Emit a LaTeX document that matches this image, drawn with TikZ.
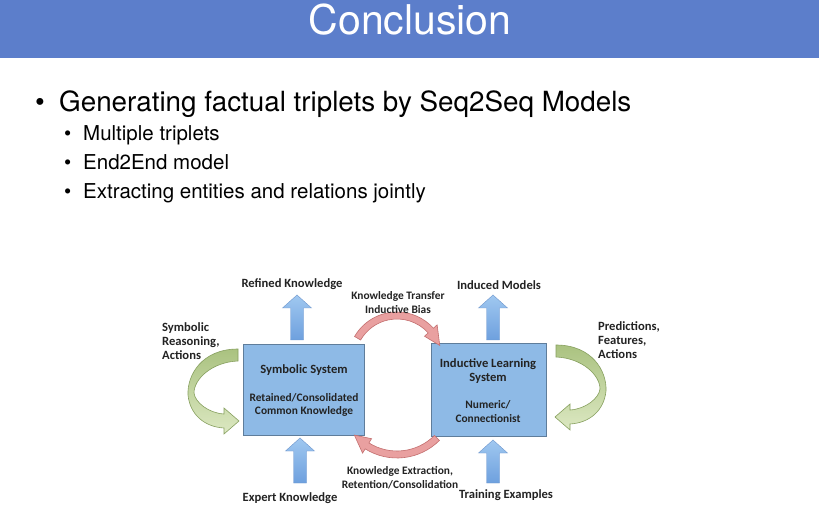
\documentclass[tikz,border=0pt]{standalone}
\usepackage{fontspec}
\setmainfont{TeX Gyre Heros}
\newfontfamily\diagfont{Carlito}
\usetikzlibrary{calc}
\definecolor{hdr}{RGB}{92,126,203}
\definecolor{boxfill}{RGB}{142,186,230}
\definecolor{boxline}{RGB}{95,125,155}
\definecolor{bluetop}{RGB}{160,200,240}
\definecolor{bluebot}{RGB}{110,160,222}
\definecolor{blueline}{RGB}{110,150,205}
\definecolor{redfill}{RGB}{233,160,160}
\definecolor{redline}{RGB}{195,110,110}
\definecolor{grntop}{RGB}{170,194,128}
\definecolor{grnbot}{RGB}{220,232,194}
\definecolor{grnline}{RGB}{135,160,95}
\definecolor{dtext}{RGB}{35,35,35}
\newcommand\GreenShape{(238,176) .. controls (202,176) and (187,150) .. (188,130) .. controls (190,110) and (205,98) .. (224,97) -- (224,91) -- (239,104) -- (224,117) -- (224,111) .. controls (208,112) and (195,123) .. (194,132) .. controls (194,146) and (212,163) .. (238,164) -- cycle}
\begin{document}
\begin{tikzpicture}[x=1pt,y=1pt,
  lbl/.style={font=\diagfont\bfseries\fontsize{12.6}{14}\selectfont, text=dtext, inner sep=0pt, align=center},
  smalllbl/.style={lbl, font=\diagfont\bfseries\fontsize{11.4}{13.5}\selectfont},
  sysbox/.style={draw=boxline, fill=boxfill, line width=0.8pt, inner sep=0pt},
  bluearrow/.style={top color=bluetop, bottom color=bluebot, draw=blueline, line width=0.4pt},
  redarrow/.style={fill=redfill, draw=redline, line width=0.6pt},
  greenarrow/.style={top color=grntop, bottom color=grnbot, draw=grnline, line width=0.6pt},
  mainitem/.style={font=\fontsize{27.8}{33}\selectfont, anchor=base west, inner sep=0pt},
  subitem/.style={font=\fontsize{20.5}{24}\selectfont, anchor=base west, inner sep=0pt}
]
\useasboundingbox (0,0) rectangle (819,525);
\fill[white] (0,0) rectangle (819,525);
\fill[hdr] (0,467) rectangle (819,525);
\node[text=white, font=\fontsize{41}{48}\selectfont, inner sep=0pt] (title) at (410,505) {Conclusion};

% bullets
\node[mainitem] (m1) at (35,413) {\textbullet};
\node[mainitem] (t1) at (59,413) {Generating factual triplets by Seq2Seq Models};
\node[subitem] (s1) at (64,384) {\textbullet};
\node[subitem] (u1) at (83,384) {Multiple triplets};
\node[subitem] (s2) at (64,355) {\textbullet};
\node[subitem] (u2) at (83,355) {End2End model};
\node[subitem] (s3) at (64,326) {\textbullet};
\node[subitem] (u3) at (83,326) {Extracting entities and relations jointly};

% boxes
\node[sysbox, minimum width=121pt, minimum height=91pt] (sym) at (303.5,135.5) {};
\node[sysbox, minimum width=115pt, minimum height=93pt] (ind) at (488.5,135.5) {};

% blue block arrows
\path[bluearrow] (297-6.5,185) -- (297-6.5,217) -- (297-14.5,217) -- (297,230) -- (297+14.5,217) -- (297+6.5,217) -- (297+6.5,185) -- cycle;
\path[bluearrow] (493-6.5,185) -- (493-6.5,217) -- (493-14.5,217) -- (493,230) -- (493+14.5,217) -- (493+6.5,217) -- (493+6.5,185) -- cycle;
\path[bluearrow] (300-6.5,42) -- (300-6.5,74) -- (300-14.5,74) -- (300,87) -- (300+14.5,74) -- (300+6.5,74) -- (300+6.5,42) -- cycle;
\path[bluearrow] (493-6.5,42) -- (493-6.5,72) -- (493-14.5,72) -- (493,85) -- (493+14.5,72) -- (493+6.5,72) -- (493+6.5,42) -- cycle;

% red arcs
\coordinate (c1) at (397,164);
\coordinate (c2) at (397,127);
\path[redarrow] ($(c1)+(150:49)$) arc[start angle=150, end angle=42, radius=49]
  -- ($(c1)+(42:54)$) -- ($(c1)+(20:45.5)$) -- ($(c1)+(42:37)$) -- ($(c1)+(42:42)$)
  arc[start angle=42, end angle=150, radius=42] -- cycle;
\path[redarrow] ($(c2)+(-45:60)$) arc[start angle=-45, end angle=-122, radius=60]
  -- ($(c2)+(-122:65)$) -- ($(c2)+(-139:56.5)$) -- ($(c2)+(-122:48)$) -- ($(c2)+(-122:53)$)
  arc[start angle=-122, end angle=-45, radius=53] -- cycle;

% green curved arrows
\path[greenarrow] \GreenShape;
\begin{scope}[xshift=794pt, xscale=-1, yshift=4pt]
\path[greenarrow] \GreenShape;
\end{scope}

% labels
\node[lbl] (refined) at (292,241) {Refined Knowledge};
\node[lbl] (induced) at (499,240) {Induced Models};
\node[smalllbl] (transfer) at (398,222.5) {Knowledge Transfer\\Inductive Bias};
\node[lbl, anchor=west, align=left] (symreason) at (162,184) {Symbolic\\Reasoning,\\Actions};
\node[lbl, anchor=west, align=left] (pred) at (598,185) {Predictions,\\Features,\\Actions};
\node[lbl] (symsys) at (304,155) {Symbolic System};
\node[smalllbl] (retained) at (304,120) {Retained/Consolidated\\Common Knowledge};
\node[lbl] (indsys) at (488,154) {Inductive Learning\\System};
\node[smalllbl] (numeric) at (488,113.5) {Numeric/\\Connectionist};
\node[smalllbl] (extract) at (400,47.5) {Knowledge Extraction,\\Retention/Consolidation};
\node[lbl] (expert) at (290,27) {Expert Knowledge};
\node[lbl] (training) at (506,30) {Training Examples};
\end{tikzpicture}
\end{document}
